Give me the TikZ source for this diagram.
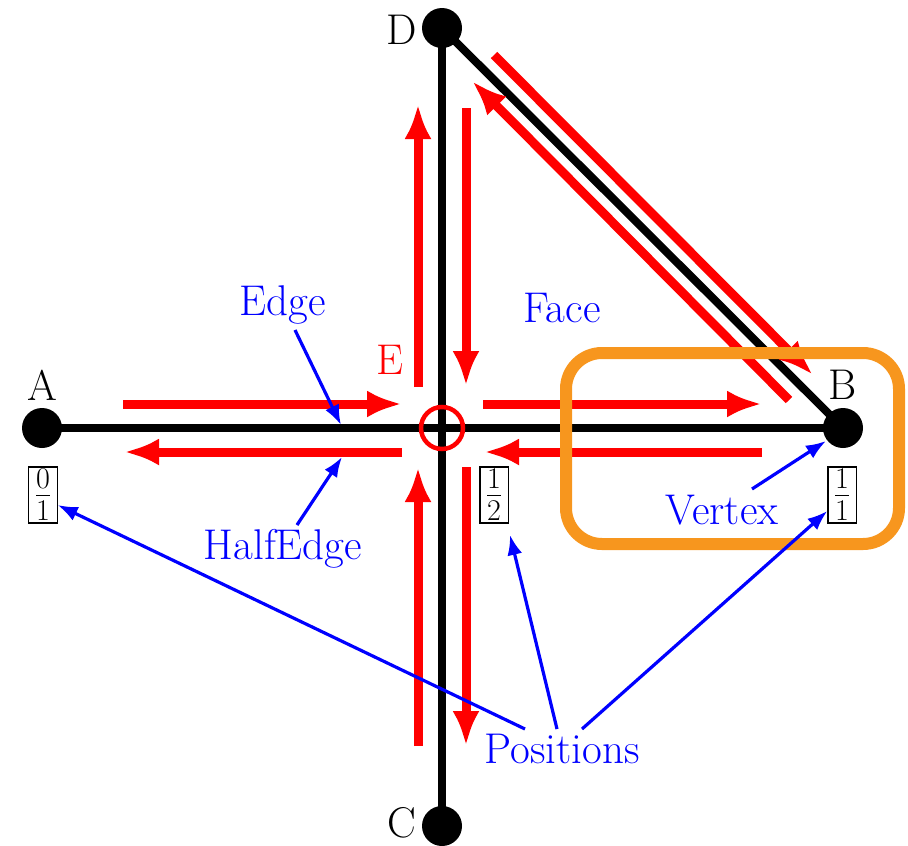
\RequirePackage{fix-cm}
\documentclass[tikz,border=0pt]{standalone}
\usepackage{fontspec}
\usetikzlibrary{arrows.meta}
\definecolor{orng}{RGB}{247,150,30}
\begin{document}
\begin{tikzpicture}[x=1pt,y=-1pt,
  every node/.style={font=\fontsize{43}{50}\selectfont},
  vtx/.style={circle,fill=black,minimum size=40pt,inner sep=0pt},
  vlabel/.style={inner sep=0pt},
  edgeline/.style={line width=8pt,black},
  redarrow/.style={red,line width=9pt,-{Latex[length=35pt,width=27pt]}},
  lbl/.style={text=blue,inner sep=0pt},
  barrow/.style={blue,line width=3.2pt,-{Latex[length=20pt,width=15pt]}},
  posbox/.style={draw,line width=1.2pt,inner xsep=6pt,inner ysep=2.5pt}]
\useasboundingbox (0,0) rectangle (908,846);

% vertices
\coordinate (Ac) at (42,428);
\coordinate (Bc) at (843,428);
\coordinate (Cc) at (442,826);
\coordinate (Dc) at (442,28);
\coordinate (Ec) at (442,428);

% black edges
\draw[edgeline] (Ac) -- (Bc);
\draw[edgeline] (Cc) -- (Dc);
\draw[edgeline] (Dc) -- (Bc);

\node[vtx] (A) at (Ac) {};
\node[vtx] (B) at (Bc) {};
\node[vtx] (C) at (Cc) {};
\node[vtx] (D) at (Dc) {};
\node[circle,draw=red,line width=4.5pt,minimum size=42pt,inner sep=0pt] (E) at (Ec) {};

% vertex labels
\node[vlabel] (lA) at (42,385) {A};
\node[vlabel] (lB) at (843,385) {B};
\node[vlabel] (lC) at (402,823) {C};
\node[vlabel] (lD) at (402,30) {D};
\node[vlabel,text=red] (lE) at (390,360) {E};

% red half-edge arrows: coordinates
\coordinate (h1s) at (123,404); \coordinate (h1e) at (402,404);
\coordinate (h2s) at (402,452); \coordinate (h2e) at (124,452);
\coordinate (h3s) at (483,404); \coordinate (h3e) at (762,404);
\coordinate (h4s) at (762,452); \coordinate (h4e) at (484,452);
\coordinate (v1s) at (418,387); \coordinate (v1e) at (418,104);
\coordinate (v2s) at (466,108); \coordinate (v2e) at (466,386);
\coordinate (v3s) at (418,746); \coordinate (v3e) at (418,467);
\coordinate (v4s) at (466,467); \coordinate (v4e) at (466,746);
\coordinate (d1s) at (494,55);  \coordinate (d1e) at (813,375);
\coordinate (d2s) at (789,400); \coordinate (d2e) at (472,81);

\draw[redarrow] (h1s) -- (h1e);
\draw[redarrow] (h2s) -- (h2e);
\draw[redarrow] (h3s) -- (h3e);
\draw[redarrow] (h4s) -- (h4e);
\draw[redarrow] (v1s) -- (v1e);
\draw[redarrow] (v2s) -- (v2e);
\draw[redarrow] (v3s) -- (v3e);
\draw[redarrow] (v4s) -- (v4e);
\draw[redarrow] (d1s) -- (d1e);
\draw[redarrow] (d2s) -- (d2e);

% orange box
\draw[orng,line width=12pt,rounded corners=36pt] (566,353) rectangle (899,544);

% position boxes
\node[posbox] (p01) at (43,495) {$\frac{0}{1}$};
\node[posbox] (p12) at (494,495) {$\frac{1}{2}$};
\node[posbox] (p11) at (842,495) {$\frac{1}{1}$};

% blue labels
\node[lbl] (edge) at (283,305) {Edge};
\node[lbl] (face) at (562,308) {Face};
\node[lbl] (half) at (283,549) {HalfEdge};
\node[lbl] (vert) at (722,510) {Vertex};
\node[lbl] (pos) at (562,749) {Positions};

\coordinate (edgeS) at (295,330); \coordinate (edgeT) at (341,425);
\coordinate (halfS) at (297,525); \coordinate (halfT) at (342,457);
\coordinate (vertS) at (752,489); \coordinate (vertT) at (826,441);
\coordinate (posS1) at (525,729);
\coordinate (posS2) at (557,729);
\coordinate (posS3) at (582,729);

\draw[barrow] (edgeS) -- (edgeT);
\draw[barrow] (halfS) -- (halfT);
\draw[barrow] (vertS) -- (vertT);
\draw[barrow] (posS1) -- (p01.east |- 0,505);
\draw[barrow] (posS2) -- (510,535);
\draw[barrow] (posS3) -- (p11.west |- 0,511);
\end{tikzpicture}
\end{document}
